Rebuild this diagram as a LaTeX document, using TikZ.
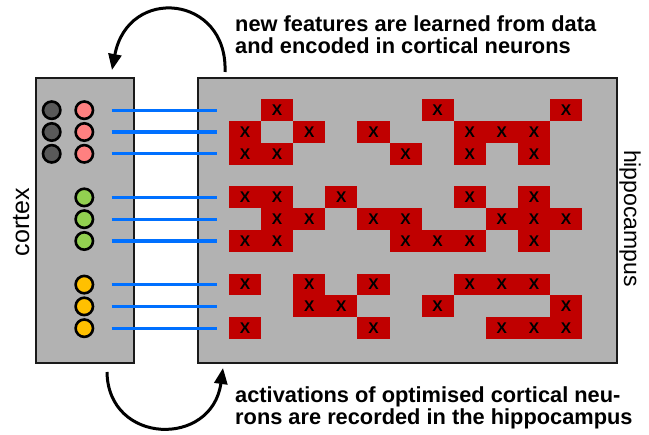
\documentclass[tikz,border=0pt]{standalone}
\usepackage{fontspec}
\setmainfont{Liberation Sans}
\usetikzlibrary{arrows.meta}
\definecolor{boxgray}{HTML}{B2B2B2}
\definecolor{cellred}{HTML}{C00000}
\definecolor{lineblue}{HTML}{0070FF}
\definecolor{npink}{HTML}{FF8080}
\definecolor{ngreen}{HTML}{92D050}
\definecolor{nyellow}{HTML}{FFC000}
\definecolor{ndark}{HTML}{595959}
\definecolor{edge}{HTML}{1A1A1A}
\tikzset{
  panel/.style={draw=edge, line width=2pt, fill=boxgray},
  cell/.style={fill=cellred, inner sep=0pt, minimum width=32.1pt, minimum height=21.8pt,
    font=\bfseries\fontsize{15.5}{15.5}\selectfont, text=black},
  neuron/.style={circle, draw=black, line width=2.6pt, minimum size=17.4pt, inner sep=0pt},
  blueline/.style={draw=lineblue, line width=3.2pt},
  curvarrow/.style={draw=black, line width=3pt, -{Triangle[length=16pt,width=13pt]}},
  caption/.style={anchor=base west, inner sep=0pt, font=\bfseries\fontsize{21.8}{22}\selectfont},
  sidelabel/.style={anchor=base, inner sep=0pt}
}
\begin{document}
\begin{tikzpicture}[x=1pt,y=-1pt]
\useasboundingbox (0,0) rectangle (649,435);
% panels
\node[panel, anchor=north west, minimum width=97.7pt, minimum height=285pt, inner sep=0pt] (cortex) at (35,77) {};
\node[panel, anchor=north west, minimum width=419pt, minimum height=285pt, inner sep=0pt] (hippo) at (197,77) {};
% cells
\foreach \r/\cols in {0/{1,6,10}, 1/{0,2,4,7,8,9}, 2/{0,1,5,7,9}, 4/{0,1,3,7,9}, 5/{1,2,4,5,8,9,10}, 6/{0,1,5,6,7,9}, 8/{0,2,4,7,8,9}, 9/{2,3,6,10}, 10/{0,4,8,9,10}}{
  \foreach \c in \cols {
    \node[cell] (c\r-\c) at ({229+32.1*(\c+0.5)},{99.3+21.8*(\r+0.5)}) {X};
  }
}
% blue lines
\foreach \r in {0,1,2,4,5,6,8,9,10}{
  \coordinate (bl\r) at (111.7,{99.3+21.8*(\r+0.5)});
  \coordinate (br\r) at (216.7,{99.3+21.8*(\r+0.5)});
  \draw[blueline] (bl\r) -- (br\r);
}
% neurons
\foreach \r in {0,1,2}{
  \node[neuron, fill=ndark] (d\r) at (51.7,{99.3+21.8*(\r+0.5)}) {};
  \node[neuron, fill=npink] (p\r) at (84.3,{99.3+21.8*(\r+0.5)}) {};
}
\foreach \r in {4,5,6}{
  \node[neuron, fill=ngreen] (g\r) at (84.3,{99.3+21.8*(\r+0.5)}) {};
}
\foreach \r in {8,9,10}{
  \node[neuron, fill=nyellow] (y\r) at (84.3,{99.3+21.8*(\r+0.5)}) {};
}
% side labels
\node[sidelabel, rotate=90, font=\fontsize{25}{25}\selectfont] (cortexlabel) at (29,222) {cortex};
\node[sidelabel, rotate=-90, font=\fontsize{23}{23}\selectfont] (hippolabel) at (624,218.5) {hippocampus};
% arrows
\coordinate (a1s) at (225,72);
\coordinate (a1e) at (112,70);
\draw[curvarrow] (a1s) .. controls (228,-5) and (128,-15) .. (a1e);
\coordinate (a2s) at (107,372);
\coordinate (a2e) at (223,368);
\draw[curvarrow] (a2s) .. controls (108,445) and (212,448) .. (a2e);
% captions
\node[caption] (t1) at (235,31.7) {new features are learned from data};
\node[caption] (t2) at (235,53.3) {and encoded in cortical neurons};
\node[caption] (b1) at (235,403) {activations of optimised cortical neu-};
\node[caption] (b2) at (235,425) {rons are recorded in the hippocampus};
\end{tikzpicture}
\end{document}
